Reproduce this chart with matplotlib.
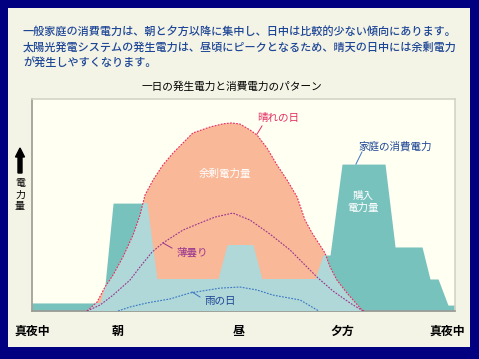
import matplotlib
matplotlib.use("Agg")
import matplotlib.pyplot as plt
from matplotlib.patches import Rectangle, FancyArrow
import numpy as np

plt.rcParams["font.family"] = ["Noto Sans CJK JP", "DejaVu Sans"]

NAVY = "#000080"
PANEL = "#F4F4E6"
PLOT_BG = "#FFFFF2"
TEAL_DARK = "#78C2BE"
TEAL_LIGHT = "#B0D8D8"
SALMON = "#F9B898"
PINK = "#E42E64"
PURPLE = "#99358F"
BLUE = "#3A76C4"
TEXT_BLUE = "#1E4696"

# hours of the day / relative power (0-100)
sunny_h = [3.12, 3.69, 4.14, 4.60, 5.16, 5.73, 6.13, 6.41, 6.87, 7.43, 8.00, 9.13,
           10.10, 10.84, 11.32, 11.80, 12.37, 12.77, 13.33, 13.90, 14.47, 15.04, 15.49,
           15.89, 16.62, 16.91, 17.30, 17.87, 18.32, 18.72, 18.84]
sunny_v = [0, 4.2, 11.3, 17.0, 25.5, 35.8, 45.3, 54.7, 61.8, 68.9, 74.5, 84.0,
           86.8, 88.3, 88.7, 88.2, 85.4, 83.0, 76.9, 68.9, 61.8, 53.8, 42.9,
           36.8, 27.4, 20.8, 14.6, 8.5, 4.2, 0.5, 0]

cloudy_h = [3.12, 3.86, 4.60, 5.56, 6.13, 6.81, 7.43, 8.57, 9.53, 10.38, 11.40,
            12.37, 13.50, 14.64, 15.38, 16.17, 17.08, 18.04, 18.78]
cloudy_v = [0, 2.8, 7.5, 14.6, 20.8, 27.8, 32.1, 38.2, 41.5, 44.3, 46.2,
            42.9, 36.3, 28.8, 22.6, 16.0, 9.4, 3.8, 0]

rainy_h = [4.88, 5.56, 6.52, 7.83, 8.96, 10.67, 11.80, 12.77, 13.67, 15.21, 16.17, 16.28]
rainy_v = [0, 1.9, 3.8, 5.7, 8.5, 10.8, 11.3, 9.9, 7.5, 5.2, 0.5, 0]

home_h = [0, 3.86, 4.14, 4.60, 6.52, 7.09, 10.55, 11.06, 12.54, 13.05, 16.06,
          16.51, 16.91, 17.59, 20.03, 20.60, 22.13, 22.58, 23.04, 23.60, 24.0]
home_v = [3.8, 3.8, 12.3, 50.9, 50.9, 15.1, 15.1, 31.1, 31.1, 15.1, 15.1,
          26.4, 26.4, 69.3, 69.3, 30.2, 30.2, 15.1, 15.1, 2.8, 2.8]

tick_hours = [0.0, 4.88, 11.74, 17.59, 23.55]
tick_labels = ["真夜中", "朝", "昼", "夕方", "真夜中"]

header = [
    "一般家庭の消費電力は、朝と夕方以降に集中し、日中は比較的少ない傾向にあります。",
    "太陽光発電システムの発生電力は、昼頃にピークとなるため、晴天の日中には余剰電力",
    "が発生しやすくなります。",
]
title = "一日の発生電力と消費電力のパターン"

fig = plt.figure(figsize=(4.79, 3.59), dpi=100, facecolor=NAVY)

# background layer in pixel coordinates
bg = fig.add_axes([0, 0, 1, 1])
bg.set_xlim(0, 479)
bg.set_ylim(359, 0)
bg.axis("off")
bg.add_patch(Rectangle((8, 8), 462, 339, facecolor=PANEL, edgecolor="none"))
for y, line in zip([32, 48, 63], header):
    bg.text(23, y, line, fontsize=8.0, color=TEXT_BLUE, ha="left", va="center",
            fontweight="medium")
bg.text(232, 87, title, fontsize=7.7, color="black", ha="center", va="center")
bg.add_patch(FancyArrow(20, 173, 0, -25, width=4, head_width=9, head_length=9,
                        length_includes_head=True, color="black"))
for y, ch in zip([183, 195, 206], "電力量"):
    bg.text(20, y, ch, fontsize=7.2, color="black", ha="center", va="center")

ax = fig.add_axes([32 / 479, 48 / 359, 423 / 479, 212 / 359])
ax.set_facecolor(PLOT_BG)
ax.set_xlim(0, 24)
ax.set_ylim(0, 100)
ax.set_yticks([])
ax.set_xticks(tick_hours, tick_labels)
ax.tick_params(axis="x", length=0, pad=10, labelsize=8.6)
for lab in ax.get_xticklabels():
    lab.set_fontweight("bold")
for side in ["left", "bottom"]:
    ax.spines[side].set_color("#9A9A92")
for side in ["top", "right"]:
    ax.spines[side].set_color("#D4D4C6")
for sp in ax.spines.values():
    sp.set_linewidth(1.2)

# purchased (consumption above generation)
ax.fill_between(home_h, 0, home_v, color=TEAL_DARK, lw=0, zorder=1)
# generation (surplus where above consumption)
salmon = ax.fill(sunny_h, sunny_v, color=SALMON, lw=0, zorder=2)[0]
# self-consumed part = consumption clipped to generation
own = ax.fill_between(home_h, 0, home_v, color=TEAL_LIGHT, lw=0, zorder=3)
own.set_clip_path(salmon)

dots = (0, (1.6, 1.2))
ax.plot(sunny_h, sunny_v, color=PINK, lw=0.8, ls=dots, zorder=5)
ax.plot(cloudy_h, cloudy_v, color=PURPLE, lw=0.8, ls=dots, zorder=5)
ax.plot(rainy_h, rainy_v, color=BLUE, lw=0.8, ls=dots, zorder=5)

lab_kw = dict(fontsize=7.6, ha="center", va="center", zorder=6)
ax.text(13.96, 91.0, "晴れの日", color=PINK, **lab_kw)
ax.plot([13.05, 12.77], [87.3, 83.5], color=PINK, lw=0.7, zorder=6)
ax.text(10.95, 64.6, "余剰電力量", color="white", **lab_kw)
ax.text(20.60, 77.8, "家庭の消費電力", color=TEXT_BLUE, **lab_kw)
ax.plot([18.72, 18.38], [75.0, 69.3], color=BLUE, lw=0.7, zorder=6)
ax.text(18.78, 54.2, "購入", color="white", **lab_kw)
ax.text(18.78, 48.6, "電力量", color="white", **lab_kw)
ax.text(9.08, 27.8, "薄曇り", color=PURPLE, **lab_kw)
ax.plot([7.94, 7.43], [29.7, 32.1], color=PURPLE, lw=0.7, zorder=6)
ax.text(10.67, 4.7, "雨の日", color=TEXT_BLUE, **lab_kw)
ax.plot([9.53, 9.08], [6.6, 9.0], color=BLUE, lw=0.7, zorder=6)

fig.savefig("out.png", dpi=100, facecolor=NAVY)
plt.close(fig)
